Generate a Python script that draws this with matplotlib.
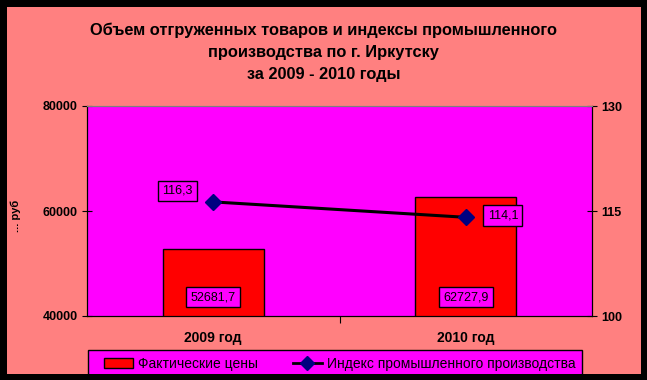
import matplotlib
matplotlib.use("Agg")
import matplotlib.pyplot as plt
from matplotlib.patches import Rectangle
from matplotlib.lines import Line2D

plt.rcParams['font.family'] = ['Liberation Sans', 'DejaVu Sans']

years = ["2009 год", "2010 год"]
prices = [52681.7, 62727.9]
index_vals = [116.3, 114.1]
price_labels = ["52681,7", "62727,9"]
index_labels = ["116,3", "114,1"]

salmon = "#FF8080"
magenta = "#FF00FF"
W, H = 647, 380

fig = plt.figure(figsize=(6.47, 3.80), dpi=100)
fig.patch.set_facecolor(salmon)

ax = fig.add_axes([87 / W, 1 - 316 / H, 505 / W, 210 / H])
ax.set_facecolor(magenta)
x = range(len(years))
ax.bar(x, prices, width=0.4, color="red", edgecolor="black", linewidth=1, zorder=2)
ax.set_xlim(-0.5, 1.5)
ax.set_ylim(40000, 80000)
ax.set_yticks([40000, 60000, 80000])
ax.set_yticklabels(["40000", "60000", "80000"], fontsize=9, fontweight="bold")
ax.set_xticks([0.5])
ax.set_xticklabels([])
ax.tick_params(axis="x", direction="out", length=5)
ax.tick_params(axis="y", direction="inout", length=7, pad=3)
for i, yr in enumerate(years):
    ax.text(i, 35800, yr, ha="center", va="center", fontsize=10, fontweight="bold")
ax.spines["top"].set_color("#808080")
ax.set_ylabel("... руб", fontsize=8, fontweight="bold")
ax.yaxis.set_label_coords(-0.131, 0.476)

for i, lab in enumerate(price_labels):
    ax.text(i, 43600, lab, ha="center", va="center", fontsize=9,
            bbox=dict(boxstyle="square,pad=0.35", facecolor=magenta, edgecolor="black", linewidth=1),
            zorder=4)

ax2 = ax.twinx()
ax2.set_ylim(100, 130)
ax2.set_yticks([100, 115, 130])
ax2.set_yticklabels(["100", "115", "130"], fontsize=9, fontweight="bold")
ax2.tick_params(axis="y", direction="inout", length=7, pad=3)
ax2.plot(x, index_vals, color="black", linewidth=2.2, marker="D", markersize=8,
         markerfacecolor="#000080", markeredgecolor="#000080", zorder=3)
ax2.spines["top"].set_color("#808080")

offsets = [(-0.143, 1.57), (0.147, 0.3)]
for i, lab in enumerate(index_labels):
    dx, dy = offsets[i]
    ax2.text(i + dx, index_vals[i] + dy, lab, ha="center", va="center", fontsize=9,
             bbox=dict(boxstyle="square,pad=0.35", facecolor=magenta, edgecolor="black", linewidth=1),
             zorder=4)

title_lines = ["Объем отгруженных товаров и индексы промышленного",
               "производства по г. Иркутску",
               "за 2009 - 2010 годы"]
for k, line in enumerate(title_lines):
    fig.text(0.5, 1 - (30 + 22 * k) / H, line, ha="center", va="center",
             fontsize=11.8, fontweight="bold")

# legend box
fig.patches.append(Rectangle((88 / W, 0), 494 / W, 1 - 350 / H, transform=fig.transFigure,
                             facecolor=magenta, edgecolor="black", linewidth=1, zorder=5))
handles = [Rectangle((0, 0), 1, 1, facecolor="red", edgecolor="black", linewidth=1),
           Line2D([0], [0], color="black", linewidth=2, marker="D", markersize=7,
                  markerfacecolor="#000080", markeredgecolor="#000080")]
leg = fig.legend(handles, ["Фактические цены", "Индекс промышленного производства"],
                 loc="center left", bbox_to_anchor=(104 / W, 1 - 364 / H),
                 ncol=2, fontsize=10, frameon=False, borderpad=0, borderaxespad=0,
                 handlelength=2.1, handletextpad=0.36, columnspacing=2.5, handleheight=0.8)
leg.set_zorder(6)

for r in [(0, 0, 7 / W, 1), (641 / W, 0, 6 / W, 1),
          (0, 1 - 7 / H, 1, 7 / H), (0, 0, 1, 6 / H)]:
    fig.patches.append(Rectangle(r[:2], r[2], r[3], transform=fig.transFigure,
                                 facecolor="black", edgecolor="none", zorder=10))

fig.savefig("out.png", dpi=100, facecolor=salmon)
